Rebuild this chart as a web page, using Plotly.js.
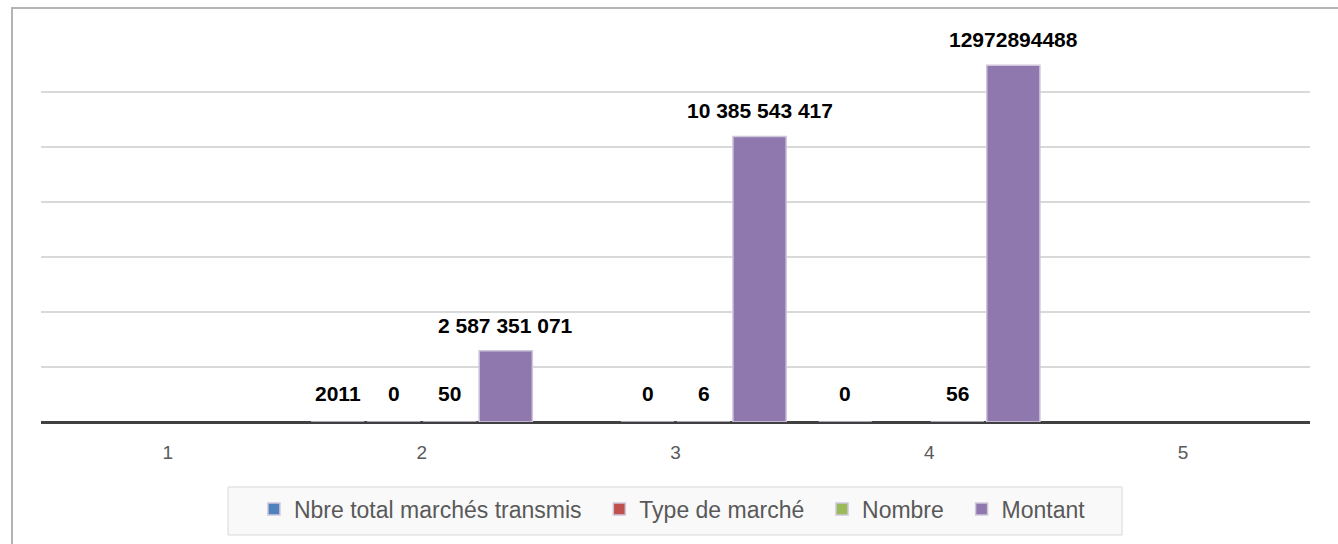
<!DOCTYPE html>
<html>
<head>
<meta charset="utf-8">
<script src="https://cdn.plot.ly/plotly-3.0.1.min.js"></script>
<style>
  html, body { margin: 0; padding: 0; background: #ffffff; }
  #wrap { position: relative; width: 1338px; height: 544px; overflow: hidden; }
  #chart { position: absolute; left: 0; top: 0; width: 1338px; height: 544px; }
  #frame { position: absolute; left: 11px; top: 7px; width: 1400px; height: 600px;
           border-left: 2px solid #b4b4b4; border-top: 2px solid #b4b4b4; pointer-events: none; }
</style>
</head>
<body>
<div id="wrap">
  <div id="chart"></div>
  <div id="frame"></div>
</div>
<script>
// ---- data ----
const categories = ['1', '2', '3', '4', '5'];
const seriesNames = ['Nbre total marchés transmis', 'Type de marché', 'Nombre', 'Montant'];
const nbreTotal  = [null, 2011, null, 0, null];
const typeMarche = [null, 0, 0, null, null];
const nombre     = [null, 50, 6, 56, null];
const montant    = [null, 2587351071, 10385543417, 12972894488, null];
const nbreTotalLabels  = ['', '2011', '', '0', ''];
const typeMarcheLabels = ['', '0', '0', '', ''];
const nombreLabels     = ['', '50', '6', '56', ''];
const montantLabels    = ['', '2 587 351 071', '10 385 543 417', '12972894488', ''];

const seriesValues = [nbreTotal, typeMarche, nombre, montant];
const seriesLabels = [nbreTotalLabels, typeMarcheLabels, nombreLabels, montantLabels];
const colors = ['#4f81bd', '#c0504d', '#9bbb59', '#8f78ae'];

const traces = seriesValues.map((vals, i) => ({
  type: 'bar',
  // trailing non-breaking spaces only widen the gap between legend entries
  name: seriesNames[i] + '\u00a0\u00a0',
  x: categories,
  y: vals,
  marker: { color: colors[i], line: { color: '#cfc6dc', width: 1.5 } },
  hoverinfo: 'x+y+name'
}));

// data labels placed via annotations at each bar's value
const slotPx = 56;   // pixel distance between bars in a group
const annotations = [];
seriesValues.forEach((vals, i) => {
  vals.forEach((v, j) => {
    const lab = seriesLabels[i][j];
    if (v === null || lab === '') return;
    annotations.push({
      x: j, y: v, xref: 'x', yref: 'y',
      text: lab, showarrow: false,
      xanchor: 'center', yanchor: 'bottom',
      xshift: (i - 1.5) * slotPx, yshift: v > 0 && i === 3 ? 12 : 15,
      font: { family: 'Liberation Sans, Arial, sans-serif', size: 21, color: '#000000', weight: 'bold' }
    });
  });
});

const layout = {
  width: 1338, height: 544,
  margin: { l: 41, r: 28, t: 37, b: 122 },
  paper_bgcolor: 'rgba(0,0,0,0)',
  plot_bgcolor: '#ffffff',
  barmode: 'group',
  bargap: 0.117,
  bargroupgap: 0.05,
  showlegend: true,
  legend: {
    orientation: 'h',
    x: 0.1678, xanchor: 'left',
    y: -0.17, yanchor: 'top',
    bgcolor: 'rgba(0,0,0,0)', borderwidth: 0,
    font: { family: 'Liberation Sans, Arial, sans-serif', size: 23, color: '#595959' },
    itemwidth: 30,
    traceorder: 'normal'
  },
  shapes: [{
    type: 'rect', xref: 'paper', yref: 'paper', layer: 'below',
    x0: 0.1474, x1: 0.8519, y0: -0.1688, y1: -0.2935,
    fillcolor: '#f9f9f9', line: { color: '#d9d9d9', width: 1 }
  }],
  xaxis: {
    type: 'category',
    categoryorder: 'array', categoryarray: categories,
    range: [-0.5, 4.5],
    showgrid: false, showline: false, zeroline: false,
    ticks: '',
    ticklabelstandoff: 17,
    tickfont: { family: 'Liberation Sans, Arial, sans-serif', size: 19, color: '#595959' }
  },
  yaxis: {
    range: [0, 14000000000],
    dtick: 2000000000,
    tick0: 0,
    showticklabels: false,
    showgrid: true, gridcolor: '#d9d9d9', gridwidth: 2,
    zeroline: true, zerolinecolor: '#404040', zerolinewidth: 3,
    showline: false, ticks: ''
  },
  annotations: annotations
};

Plotly.newPlot('chart', traces, layout, { displayModeBar: false, staticPlot: true });
</script>
</body>
</html>
